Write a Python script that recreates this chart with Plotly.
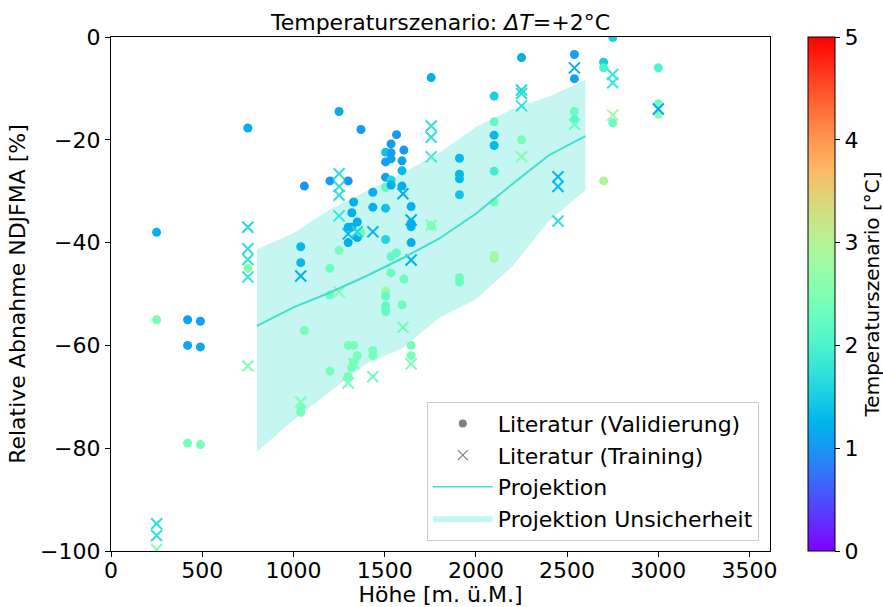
import math
import plotly.graph_objects as go

# ---------------- data ----------------
val_x = [250, 250, 420, 490, 420, 490, 420, 490, 750, 750,
         1060, 1040, 1040, 1060, 1040, 1040,
         1200, 1250, 1300, 1250, 1200, 1200, 1200, 1300, 1330, 1300,
         1370, 1565, 1535, 1605, 1505, 1535, 1535, 1505, 1595, 1595, 1505, 1535, 1505,
         1535, 1595, 1435, 1330, 1435, 1505, 1645, 1320, 1350, 1300, 1320, 1350, 1300,
         1370, 1505, 1645, 1645, 1645,
         1535, 1565, 1535, 1605, 1505, 1505, 1505, 1505, 1595,
         1435, 1435, 1350, 1330, 1320, 1645, 1645,
         1755, 1755, 1910, 1910, 1910, 1910, 1910, 1910,
         2100, 2100, 2100, 2100, 2100, 2100, 2100, 2100,
         2250, 2250, 2540, 2540, 2540, 2540,
         2700, 2700, 2700, 2750, 2750, 3000, 3000, 3000]
val_y = [-38, -55, -55, -55.3, -60, -60.3, -79, -79.3, -17.7, -45,
         -29, -40.8, -43.9, -57.1, -72, -73,
         -28, -14.5, -28, -41.5, -45, -50.2, -65, -60, -60, -66,
         -18, -19, -20.8, -22, -22.4, -22.5, -23.7, -24.3, -24.1, -26, -27.3, -27.8, -29.3,
         -28.8, -29, -30.2, -32.1, -33.1, -33.3, -33, -34.2, -36, -37, -37, -39, -40,
         -38, -39.4, -36.2, -36.9, -40,
         -42.7, -42, -45.9, -47.1, -49.4, -50.4, -52.3, -53.4, -52.1,
         -61, -62, -62, -63.2, -64.3, -60, -62,
         -7.9, -36.7, -23.6, -26.7, -27.6, -30.7, -46.8, -47.7,
         -11.5, -16.5, -19.1, -21.1, -26.1, -32.1, -42.5, -43.1,
         -4, -20, -3.4, -8.1, -14.5, -16.1,
         -4.9, -6, -28, -0.1, -16.7, -6, -13, -15]
val_t = [1.2, 2.4, 1.1, 1.1, 1.15, 1.15, 2.4, 2.4, 1.2, 2.6,
         1.0, 1.3, 1.3, 2.4, 2.4, 2.4,
         1.1, 1.15, 1.0, 2.4, 2.3, 2.3, 2.4, 2.4, 2.4, 2.4,
         1.05, 1.0, 1.05, 1.0, 1.4, 1.1, 1.1, 1.1, 1.1, 1.3, 1.1, 1.6, 2.2,
         1.2, 1.2, 1.2, 1.2, 1.2, 1.4, 1.2, 1.2, 1.2, 1.2, 1.2, 1.2, 1.2,
         2.3, 1.6, 1.2, 1.2, 1.2,
         2.2, 2.2, 2.3, 2.3, 2.8, 2.2, 2.2, 2.2, 2.3,
         2.4, 2.4, 2.4, 2.4, 2.4, 2.4, 2.4,
         1.2, 2.4, 1.3, 1.3, 1.3, 1.4, 2.3, 2.3,
         1.5, 2.2, 1.3, 1.3, 1.9, 2.3, 2.8, 2.8,
         1.2, 2.4, 1.1, 1.1, 2.3, 2.1,
         1.5, 2.0, 3.0, 1.5, 2.3, 2.0, 2.3, 2.5]

train_x = [250, 250, 250, 750, 750, 750, 750, 750, 1040, 1040,
           1250, 1250, 1250, 1250, 1250, 1300, 1350, 1435, 1600, 1645, 1645,
           1600, 1645, 1300, 1435, 1330,
           1755, 1755, 1755, 1755, 2250, 2250, 2250, 2250,
           2450, 2450, 2450, 2540, 2540, 2750, 2750, 2750, 3000]
train_y = [-94.7, -97, -99.7, -37, -41.2, -43.3, -46.7, -64, -46.5, -71,
           -26.6, -29.1, -30.8, -34.8, -49.6, -38.3, -37.9, -37.9, -30.5, -35.6, -43.4,
           -56.5, -63.6, -67.3, -66.1, -63.5,
           -17.3, -19.5, -23.3, -36.6, -10.3, -11, -13.4, -23.3,
           -27.2, -29.1, -35.8, -6, -17, -7.3, -8.9, -15.2, -14]
train_t = [1.7, 1.7, 2.5, 1.6, 1.7, 1.7, 1.8, 2.5, 1.2, 2.5,
           1.7, 1.7, 1.7, 1.8, 2.5, 1.3, 1.6, 1.3, 1.2, 1.2, 1.2,
           2.3, 2.4, 2.4, 2.4, 2.4,
           1.7, 1.7, 1.9, 2.5, 1.6, 1.7, 1.7, 2.5,
           1.3, 1.3, 1.7, 1.2, 2.3, 1.8, 1.8, 2.7, 1.1]

proj_x = [800, 1000, 1200, 1400, 1600, 1800, 2000, 2200, 2400, 2600]
proj_mid = [-56.2, -52.6, -49.7, -46.5, -43.0, -39.2, -34.4, -28.6, -23.0, -19.3]
proj_hi = [-41.3, -38.2, -33.5, -30.0, -26.5, -22.5, -17.5, -14.0, -11.6, -8.4]
proj_lo = [-80.7, -74.5, -69.0, -63.5, -60.5, -54.6, -51.0, -44.6, -35.8, -29.8]

# ------------- matplotlib 'rainbow' colorscale -------------
def rainbow(t):
    r = min(1.0, abs(2 * t - 0.5))
    g = math.sin(math.pi * t)
    b = math.cos(math.pi / 2 * t)
    return "rgb(%d,%d,%d)" % (round(r * 255), round(g * 255), round(max(b, 0) * 255))

cscale = [[i / 20, rainbow(i / 20)] for i in range(21)]

FONT = "DejaVu Sans"
FS = 22
TURQ = "#40E0D0"

fig = go.Figure()

# uncertainty band
fig.add_trace(go.Scatter(
    x=proj_x + proj_x[::-1], y=proj_hi + proj_lo[::-1],
    fill="toself", fillcolor="rgba(64,224,208,0.3)", line=dict(width=0),
    mode="lines", hoverinfo="skip", showlegend=False))

# validation points
fig.add_trace(go.Scatter(
    x=val_x, y=val_y, mode="markers", showlegend=False,
    marker=dict(symbol="circle", size=9, color=val_t, coloraxis="coloraxis",
                line=dict(width=0))))

# training points
fig.add_trace(go.Scatter(
    x=train_x, y=train_y, mode="markers", showlegend=False,
    marker=dict(symbol="x-thin", size=11,
                line=dict(width=2, color=train_t, coloraxis="coloraxis"))))

# projection line
fig.add_trace(go.Scatter(
    x=proj_x, y=proj_mid, mode="lines", showlegend=False,
    line=dict(color=TURQ, width=2)))

# legend entries
fig.add_trace(go.Scatter(x=[None], y=[None], mode="markers", name="Literatur (Validierung)",
                         marker=dict(symbol="circle", size=8, color="grey")))
fig.add_trace(go.Scatter(x=[None], y=[None], mode="markers", name="Literatur (Training)",
                         marker=dict(symbol="x-thin", size=10, line=dict(width=1.2, color="grey"))))
fig.add_trace(go.Scatter(x=[None], y=[None], mode="lines", name="Projektion",
                         line=dict(color=TURQ, width=1.5)))
fig.add_trace(go.Scatter(x=[None], y=[None], mode="lines", name="Projektion Unsicherheit",
                         fill="toself", fillcolor="rgba(64,224,208,0.3)", line=dict(width=0)))

axis_common = dict(showgrid=False, zeroline=False, showline=True, linecolor="black",
                   linewidth=1.2, mirror=True, ticks="outside", ticklen=5, tickwidth=1.2,
                   tickcolor="black", tickfont=dict(size=FS, color="black", family=FONT))

fig.update_layout(
    width=883, height=607,
    margin=dict(l=111, r=113, t=37, b=56, autoexpand=False),
    paper_bgcolor="white", plot_bgcolor="white",
    font=dict(family=FONT, size=FS, color="black"),
    title=dict(text="Temperaturszenario: <i>ΔT</i>=+2°C", x=0.5, xref="paper", xanchor="center",
               y=1, yref="paper", yanchor="bottom", pad=dict(b=7),
               font=dict(size=FS, family=FONT, color="black")),
    xaxis=dict(range=[0, 3612], tickvals=[0, 500, 1000, 1500, 2000, 2500, 3000, 3500],
               ticklabelstandoff=-6,
               title=dict(text="Höhe [m. ü.M.]", standoff=6, font=dict(size=FS)), **axis_common),
    yaxis=dict(range=[-100, 0], tickvals=[-100, -80, -60, -40, -20, 0],
               title=dict(text="Relative Abnahme NDJFMA [%]", standoff=8, font=dict(size=FS)),
               **axis_common),
    coloraxis=dict(colorscale=cscale, cmin=0, cmax=5,
                   colorbar=dict(x=1.0577, xanchor="left", xref="paper", y=0.5, yanchor="middle",
                                 len=1, lenmode="fraction", thickness=27, xpad=0, ypad=0,
                                 outlinewidth=1, outlinecolor="black",
                                 ticks="outside", ticklen=5, tickcolor="black",
                                 tickvals=[0, 1, 2, 3, 4, 5],
                                 tickfont=dict(size=FS, family=FONT, color="black"),
                                 title=dict(text="Temperaturszenario [°C]", side="right",
                                            font=dict(size=20, family=FONT, color="black")))),
    legend=dict(x=0.983, xanchor="right", y=0.02, yanchor="bottom",
                bgcolor="rgba(255,255,255,0.8)", bordercolor="#cccccc", borderwidth=1,
                font=dict(size=FS, family=FONT, color="black"), itemwidth=60),
)

fig.write_html("out.html", post_script="document.body.style.margin='0px';",
               config={"displayModeBar": False})
